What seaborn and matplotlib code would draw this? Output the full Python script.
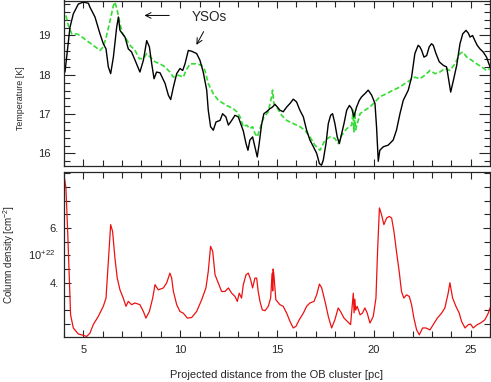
import seaborn as sns
import pandas as pd
import matplotlib.pyplot as plt
from matplotlib.ticker import MultipleLocator, FixedLocator

# temperature along the cut (black, solid)
temp_x = [4.05, 4.31, 4.48, 4.74, 5.0, 5.26, 5.34, 5.6, 5.86, 6.03, 6.17, 6.29, 6.41, 6.55, 6.72, 6.81,
          6.89, 7.03, 7.15, 7.32, 7.49, 7.67, 7.92, 8.1, 8.27, 8.41, 8.53, 8.65, 8.78, 8.96, 9.22, 9.39,
          9.51, 9.65, 9.82, 9.99, 10.13, 10.25, 10.42, 10.59, 10.85, 11.02, 11.19, 11.37, 11.45, 11.57,
          11.71, 11.85, 12.06, 12.19, 12.36, 12.49, 12.66, 12.83, 13.0, 13.12, 13.26, 13.4, 13.5, 13.6,
          13.74, 13.86, 13.98, 14.08, 14.2, 14.32, 14.46, 14.64, 14.77, 14.89, 15.02, 15.15, 15.32, 15.5,
          15.67, 15.84, 16.01, 16.18, 16.36, 16.53, 16.7, 16.88, 17.05, 17.19, 17.3, 17.39, 17.53, 17.65,
          17.77, 17.87, 17.99, 18.11, 18.22, 18.34, 18.46, 18.6, 18.74, 18.86, 18.97, 19.11, 19.25, 19.37,
          19.54, 19.71, 19.89, 20.06, 20.14, 20.23, 20.31, 20.49, 20.74, 21.0, 21.17, 21.35, 21.52, 21.78,
          21.95, 22.12, 22.29, 22.38, 22.47, 22.59, 22.73, 22.86, 22.98, 23.07, 23.21, 23.38, 23.59, 23.76,
          23.9, 23.97, 24.11, 24.28, 24.45, 24.59, 24.76, 24.88, 24.97, 25.1, 25.22, 25.34, 25.48, 25.65,
          25.82, 26.0]
temp_k = [18.07, 19.21, 19.55, 19.8, 19.85, 19.82, 19.72, 19.47, 19.04, 18.79, 18.66, 18.2, 18.03, 18.45,
          19.21, 19.47, 19.13, 19.04, 18.96, 18.66, 18.58, 18.37, 18.07, 18.37, 18.87, 18.71, 18.28, 17.9,
          18.07, 18.05, 17.78, 17.48, 17.37, 17.69, 18.03, 18.16, 18.11, 18.28, 18.62, 18.6, 18.54, 18.37,
          18.07, 17.61, 17.1, 16.68, 16.59, 16.8, 16.84, 17.01, 16.93, 16.72, 16.84, 16.97, 16.93, 16.76,
          16.57, 16.25, 16.08, 16.34, 16.42, 16.17, 15.91, 16.25, 16.72, 17.01, 17.06, 17.14, 17.18, 17.25,
          17.18, 17.1, 17.06, 17.18, 17.27, 17.38, 17.31, 17.1, 16.93, 16.59, 16.34, 16.17, 16.0, 15.74,
          15.7, 15.83, 16.25, 16.76, 16.97, 17.01, 16.76, 16.42, 16.25, 16.51, 16.76, 17.1, 17.22, 17.14,
          16.93, 17.18, 17.35, 17.44, 17.52, 17.61, 17.48, 17.27, 16.68, 15.8, 16.08, 16.17, 16.21, 16.34,
          16.59, 17.01, 17.35, 17.61, 17.94, 18.54, 18.75, 18.71, 18.62, 18.45, 18.49, 18.71, 18.79, 18.75,
          18.54, 18.33, 18.24, 18.2, 17.78, 17.56, 17.86, 18.24, 18.79, 19.04, 19.13, 19.06, 18.96, 19.0,
          18.87, 18.75, 18.66, 18.58, 18.45, 18.2]

# second temperature profile (green, dashed)
model_x = [4.1, 4.22, 4.4, 4.66, 4.83, 5.17, 5.51, 5.86, 6.03, 6.2, 6.38, 6.55, 6.63, 6.75, 6.89, 7.03,
           7.2, 7.41, 7.67, 7.89, 8.1, 8.27, 8.53, 8.7, 8.96, 9.22, 9.47, 9.65, 9.9, 10.16, 10.3, 10.51,
           10.85, 11.11, 11.28, 11.45, 11.71, 11.97, 12.4, 12.74, 12.92, 13.09, 13.26, 13.43, 13.6, 13.74,
           13.86, 13.98, 14.12, 14.29, 14.55, 14.72, 14.77, 14.84, 14.98, 15.24, 15.5, 15.84, 16.18, 16.44,
           16.7, 16.96, 17.22, 17.48, 17.74, 17.99, 18.16, 18.34, 18.6, 18.86, 18.93, 18.97, 19.02, 19.06,
           19.29, 19.54, 19.8, 20.06, 20.31, 20.66, 21.0, 21.35, 21.61, 21.87, 22.12, 22.38, 22.64, 22.9,
           23.16, 23.41, 23.67, 23.93, 24.19, 24.45, 24.59, 24.8, 25.05, 25.31, 25.57, 25.82, 26.0]
model_k = [19.51, 19.26, 19.04, 19.04, 19.0, 18.87, 18.75, 18.62, 18.71, 19.0, 19.38, 19.76, 19.85, 19.64,
           19.3, 19.04, 18.92, 18.75, 18.62, 18.41, 18.41, 18.54, 18.41, 18.33, 18.28, 18.2, 18.07, 17.94,
           17.99, 17.94, 18.11, 18.28, 18.28, 18.24, 18.11, 17.78, 17.52, 17.35, 17.22, 17.14, 17.06, 16.93,
           16.68, 16.72, 16.63, 16.68, 16.51, 16.42, 16.63, 16.89, 17.06, 17.44, 17.61, 17.27, 17.18, 16.97,
           16.84, 16.76, 16.68, 16.59, 16.42, 16.21, 16.08, 16.34, 16.42, 16.38, 16.25, 16.46, 16.63, 16.72,
           17.1, 16.55, 17.05, 16.6, 17.01, 17.1, 17.18, 17.31, 17.44, 17.52, 17.61, 17.69, 17.78, 17.86,
           17.94, 17.9, 17.99, 18.11, 18.03, 18.07, 18.16, 18.11, 18.28, 18.54, 18.58, 18.45, 18.37, 18.28,
           18.2, 18.11, 18.16]

# column density in units of 1e22 cm^-2 (red)
nh_x = [4.0, 4.1, 4.19, 4.28, 4.34, 4.48, 4.74, 5.0, 5.17, 5.34, 5.51, 5.77, 6.03, 6.17, 6.29, 6.41,
        6.51, 6.63, 6.75, 6.89, 7.06, 7.2, 7.32, 7.49, 7.67, 7.92, 8.1, 8.23, 8.41, 8.58, 8.7, 8.87, 9.13,
        9.3, 9.47, 9.56, 9.65, 9.82, 9.99, 10.16, 10.37, 10.59, 10.85, 11.11, 11.33, 11.45, 11.57, 11.68,
        11.8, 11.97, 12.14, 12.31, 12.49, 12.66, 12.83, 12.95, 13.05, 13.17, 13.26, 13.4, 13.52, 13.64,
        13.74, 13.86, 13.95, 14.03, 14.12, 14.24, 14.38, 14.55, 14.67, 14.72, 14.76, 14.78, 14.8, 14.84,
        14.94, 15.15, 15.32, 15.5, 15.67, 15.84, 15.98, 16.15, 16.36, 16.53, 16.7, 16.91, 17.05, 17.19,
        17.3, 17.48, 17.65, 17.82, 17.99, 18.16, 18.28, 18.46, 18.63, 18.8, 18.9, 18.94, 18.98, 19.02,
        19.06, 19.14, 19.29, 19.41, 19.54, 19.66, 19.8, 19.97, 20.11, 20.2, 20.29, 20.4, 20.52, 20.66,
        20.8, 20.92, 21.04, 21.17, 21.31, 21.43, 21.55, 21.69, 21.83, 21.95, 22.07, 22.21, 22.35, 22.52,
        22.69, 22.9, 23.07, 23.28, 23.5, 23.67, 23.84, 23.93, 24.07, 24.24, 24.41, 24.53, 24.71, 24.88,
        25.0, 25.13, 25.34, 25.51, 25.74, 25.91, 26.0]
nh_val = [7.94, 7.45, 5.87, 4.05, 2.83, 2.35, 2.13, 2.08, 2.04, 2.16, 2.47, 2.77, 3.14, 3.44, 4.78, 6.12,
          5.87, 4.9, 4.17, 3.74, 3.44, 3.14, 3.32, 3.2, 3.26, 3.2, 2.95, 2.71, 2.95, 3.44, 3.93, 3.74, 3.81,
          3.99, 4.35, 4.17, 3.68, 3.2, 2.95, 2.89, 2.71, 2.73, 2.95, 3.38, 3.81, 4.41, 5.33, 5.14, 4.29,
          3.99, 3.68, 3.68, 3.81, 3.62, 3.5, 3.32, 3.62, 3.44, 3.93, 4.29, 4.35, 4.11, 3.81, 4.17, 4.17,
          3.68, 3.32, 3.01, 2.98, 3.14, 3.44, 4.0, 4.35, 3.7, 4.5, 4.29, 3.38, 3.2, 3.14, 2.89, 2.59, 2.35,
          2.41, 2.65, 2.89, 3.14, 3.26, 3.32, 3.56, 3.95, 3.83, 3.32, 2.77, 2.35, 2.65, 3.08, 2.95, 2.71,
          2.59, 2.47, 3.3, 3.62, 2.9, 3.4, 3.0, 3.14, 2.83, 2.89, 3.08, 2.89, 2.53, 2.77, 3.44, 5.27, 6.73,
          6.48, 6.12, 6.36, 6.42, 6.36, 5.87, 5.14, 4.41, 3.68, 3.44, 3.56, 3.5, 3.2, 2.71, 2.28, 2.1,
          2.35, 2.35, 2.28, 2.47, 2.71, 2.89, 3.08, 3.62, 4.0, 3.44, 3.14, 2.89, 2.59, 2.35, 2.47, 2.49,
          2.35, 2.47, 2.53, 2.65, 2.89, 3.08]

temp = pd.DataFrame({'x': temp_x, 'T': temp_k})
model = pd.DataFrame({'x': model_x, 'T': model_k})
nh = pd.DataFrame({'x': nh_x, 'N': nh_val})

sns.set_style('ticks')
plt.rcParams['font.family'] = ['Liberation Sans', 'DejaVu Sans']
plt.rcParams['mathtext.default'] = 'regular'

fig = plt.figure(figsize=(4.91, 3.82), dpi=100)
ax1 = fig.add_axes([64/491, 1 - 166/382, 426/491, 165.5/382])
ax2 = fig.add_axes([64/491, 1 - 337/382, 426/491, 165/382])

sns.lineplot(x='x', y='T', data=model, ax=ax1, color='#33dd33', lw=1.2,
             linestyle=(0, (3, 1.5)), estimator=None, sort=False)
sns.lineplot(x='x', y='T', data=temp, ax=ax1, color='black', lw=1.0, estimator=None, sort=False)
sns.lineplot(x='x', y='N', data=nh, ax=ax2, color='#ee1111', lw=0.9, estimator=None, sort=False)

for ax in (ax1, ax2):
    ax.set_xlim(4, 26)
    ax.xaxis.set_major_locator(MultipleLocator(5))
    ax.xaxis.set_minor_locator(MultipleLocator(1))
    ax.tick_params(which='both', direction='in', top=True, right=True, labelsize=8, width=0.8)
    ax.tick_params(which='major', length=5)
    ax.tick_params(which='minor', length=4)
    for s in ax.spines.values():
        s.set_linewidth(0.9)

ax1.set_ylim(15.68, 19.89)
ax1.yaxis.set_major_locator(MultipleLocator(1))
ax1.yaxis.set_minor_locator(MultipleLocator(0.2))
ax1.tick_params(axis='y', which='major', length=8, pad=10)
ax1.tick_params(axis='x', labelbottom=False)
ax1.set_xlabel('')
ax1.set_ylabel('Temperature [K]', fontsize=6.4)
ax1.yaxis.set_label_coords(-0.091, 0.41)

ax1.annotate('', xy=(8.01, 19.51), xytext=(9.58, 19.51),
             arrowprops=dict(arrowstyle='->', color='black', lw=0.7))
ax1.annotate('', xy=(10.77, 18.70), xytext=(11.28, 19.16),
             arrowprops=dict(arrowstyle='->', color='black', lw=0.7))
ax1.text(11.52, 19.47, 'YSOs', fontsize=9.8, ha='center', va='center')

ax2.set_ylim(2.02, 8.04)
ax2.yaxis.set_major_locator(FixedLocator([4, 6]))
ax2.yaxis.set_minor_locator(MultipleLocator(0.5))
ax2.set_yticklabels(['4.', '6.'])
ax2.tick_params(axis='y', which='major', length=5, pad=4)
ax2.tick_params(axis='x', pad=6)
ax2.text(-0.02, 5.0, '10$^{+22}$', transform=ax2.get_yaxis_transform(),
         ha='right', va='center', fontsize=8)
ax2.set_ylabel('Column density [cm$^{-2}$]', fontsize=7.1)
ax2.yaxis.set_label_coords(-0.111, 0.5)
ax2.set_xlabel('Projected distance from the OB cluster [pc]', fontsize=8)
ax2.xaxis.set_label_coords(0.5, -0.20)

fig.savefig('out.png', dpi=100)
